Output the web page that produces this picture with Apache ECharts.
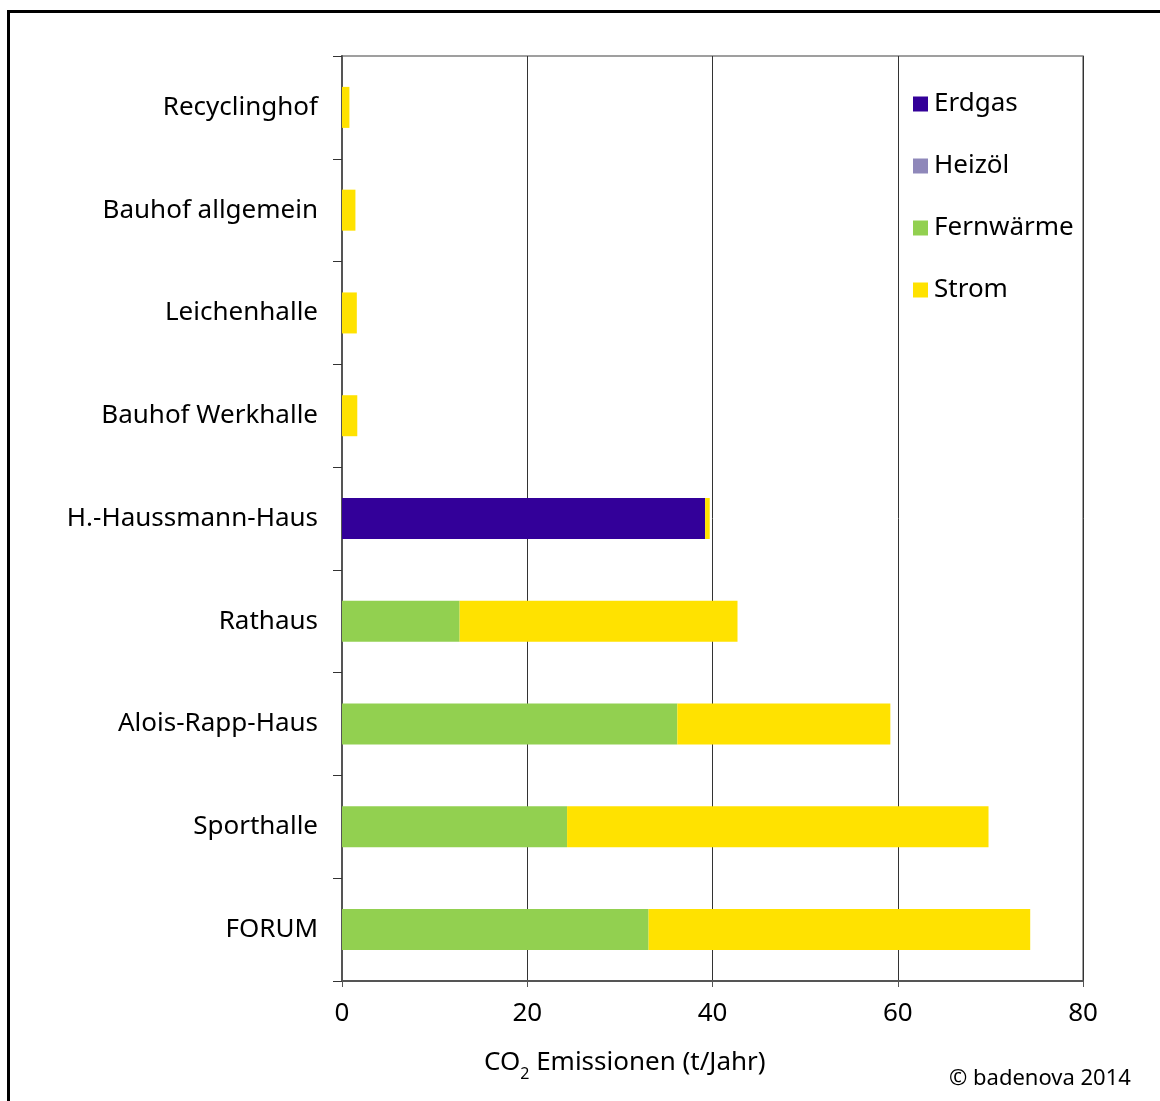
<!DOCTYPE html>
<html>
<head>
<meta charset="utf-8">
<script src="https://cdn.jsdelivr.net/npm/echarts@6/dist/echarts.min.js"></script>
<style>
  html, body { margin: 0; padding: 0; background: #fff; }
  #chart { width: 1160px; height: 1101px; }
</style>
</head>
<body>
<div id="chart"></div>
<script>
// Buildings, bottom to top as they appear on the category axis
const buildings = ['FORUM', 'Sporthalle', 'Alois-Rapp-Haus', 'Rathaus', 'H.-Haussmann-Haus',
  'Bauhof Werkhalle', 'Leichenhalle', 'Bauhof allgemein', 'Recyclinghof'];

// CO2 emissions per energy carrier (t/Jahr)
const erdgas    = [0, 0, 0, 0, 39.2, 0, 0, 0, 0];
const heizoel   = [0, 0, 0, 0, 0, 0, 0, 0, 0];
const fernwaerme = [33.1, 24.3, 36.2, 12.7, 0, 0, 0, 0, 0];
const strom     = [41.2, 45.5, 23.0, 30.0, 0.5, 1.65, 1.6, 1.45, 0.8];

const xTicks = [0, 20, 40, 60, 80];

const FONT = 'Noto Sans';
const colors = { Erdgas: '#330099', 'Heizöl': '#8f88ba', 'Fernwärme': '#92d050', Strom: '#ffe200' };

const chart = echarts.init(document.getElementById('chart'), null, { renderer: 'canvas' });

function barSeries(name, data) {
  return {
    name: name,
    type: 'bar',
    stack: 'total',
    barWidth: 41,
    data: data,
    itemStyle: { color: colors[name] },
    emphasis: { disabled: true }
  };
}

chart.setOption({
  animation: false,
  backgroundColor: '#fff',
  textStyle: { fontFamily: FONT },
  grid: {
    left: 342, right: 77, top: 56, bottom: 120,
    show: true, borderColor: '#808080', borderWidth: 1.5, backgroundColor: 'transparent'
  },
  legend: {
    orient: 'vertical',
    left: 908, top: 86,
    itemWidth: 15, itemHeight: 15, itemGap: 36,
    icon: 'rect',
    selectedMode: false,
    textStyle: { fontFamily: FONT, fontSize: 26, color: '#000', padding: [0, 0, 0, 1] },
    data: ['Erdgas', 'Heizöl', 'Fernwärme', 'Strom']
  },
  xAxis: {
    type: 'value',
    min: xTicks[0], max: xTicks[xTicks.length - 1], interval: 20,
    axisLine: { show: true, lineStyle: { color: '#555', width: 2 } },
    axisTick: { show: true, length: 6, lineStyle: { color: '#555', width: 1 } },
    axisLabel: { fontFamily: FONT, fontSize: 26, color: '#000', margin: 20 },
    splitLine: { show: true, lineStyle: { color: '#333', width: 1 } }
  },
  yAxis: {
    type: 'category',
    data: buildings,
    axisLine: { show: true, lineStyle: { color: '#555', width: 2 } },
    axisTick: { show: true, length: 9, lineStyle: { color: '#333', width: 1 } },
    axisLabel: { fontFamily: FONT, fontSize: 26, color: '#000', margin: 24 },
    splitLine: { show: false }
  },
  series: [
    barSeries('Erdgas', erdgas),
    barSeries('Heizöl', heizoel),
    barSeries('Fernwärme', fernwaerme),
    barSeries('Strom', strom)
  ],
  graphic: [
    {
      type: 'rect', silent: true, z: 100,
      shape: { x: 8.5, y: 11.5, width: 1200, height: 1200 },
      style: { fill: null, stroke: '#000', lineWidth: 3 }
    },
    {
      type: 'text', silent: true, left: 484, top: 1050,
      style: {
        text: '{a|CO}{s|2}{a| Emissionen (t/Jahr)}',
        rich: {
          a: { fontFamily: FONT, fontSize: 26, color: '#000', verticalAlign: 'bottom' },
          s: { fontFamily: FONT, fontSize: 16, color: '#000', verticalAlign: 'bottom', padding: [0, 0, -6, 0] }
        }
      }
    },
    {
      type: 'text', silent: true, left: 949, top: 1068,
      style: { text: '© badenova 2014', fontFamily: FONT, fontSize: 22, fill: '#000' }
    }
  ]
});
</script>
</body>
</html>
